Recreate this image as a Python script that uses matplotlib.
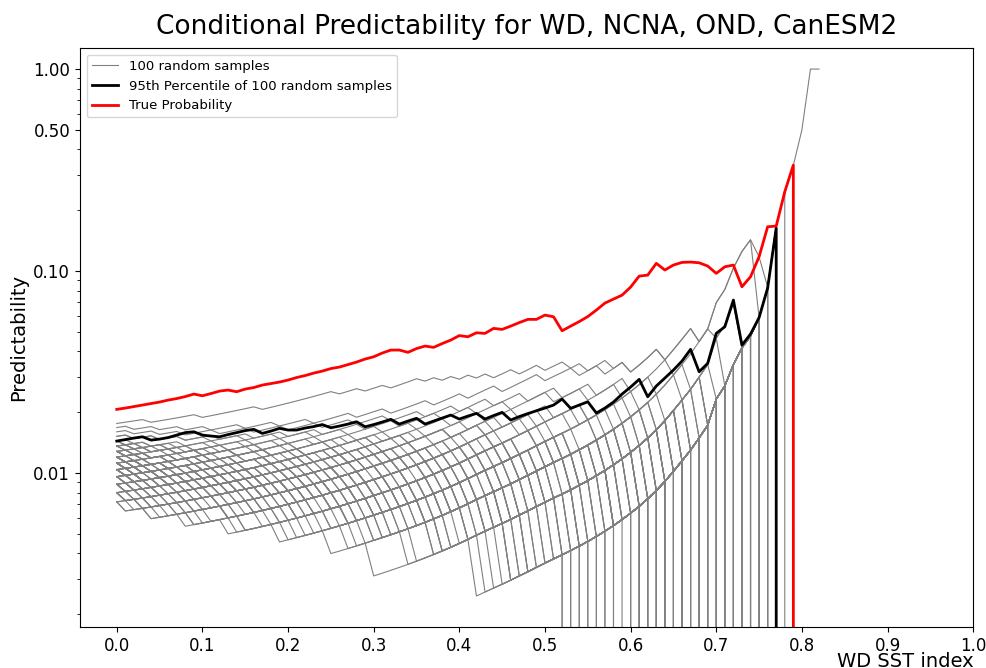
import numpy as np
import matplotlib
matplotlib.use("Agg")
import matplotlib.pyplot as plt
from matplotlib.ticker import NullFormatter

# -- umbrales del indice WD SST (0.00 ... 0.82) --
thresholds = np.round(np.arange(0, 0.83, 0.01), 2)

# anos con indice > umbral (denominador)
n_exceed = [1250, 1232, 1214, 1196, 1177, 1158, 1139, 1120, 1100, 1080,
            1060, 1040, 1020, 1000, 980, 960, 940, 919, 898, 877,
            856, 835, 814, 793, 772, 751, 730, 709, 688, 667,
            646, 626, 606, 586, 566, 546, 526, 506, 486, 466,
            446, 426, 406, 388, 371, 355, 339, 323, 308, 293,
            279, 266, 254, 242, 230, 218, 206, 194, 182, 170,
            158, 146, 134, 122, 110, 98, 87, 77, 67, 58,
            43, 37, 29, 24, 21, 17, 12, 6, 4, 3,
            2, 1, 1]

# eventos de cada muestra aleatoria (valor del indice en centesimas)
sample_events = [
    [82, 41, 37, 30, 26, 19, 12, 7, 3],
    [78, 64, 58, 47, 39, 33, 28, 21, 17, 12, 9, 5, 2],
    [77, 69, 61, 55, 46, 41, 35, 30, 26, 20, 16, 11, 8, 3, 0],
    [77, 66, 52, 44, 38, 29, 23, 18, 13, 9, 6, 1],
    [77, 72, 65, 60, 54, 49, 43, 38, 33, 29, 24, 19, 15, 11, 7, 4, 2],
    [77, 63, 57, 48, 40, 36, 31, 25, 20, 14, 10, 6, 3, 1],
    [77, 59, 45, 37, 32, 27, 21, 16, 11, 5, 2],
    [76, 75, 74, 67, 63, 59, 56, 53, 49, 44, 40, 36, 31, 27, 22, 18, 14, 10, 7, 4, 1],
    [76, 68, 62, 51, 45, 41, 34, 30, 27, 22, 17, 13, 10, 6, 3, 0],
    [76, 64, 55, 43, 37, 31, 26, 21, 16, 12, 8, 4, 1],
    [76, 60, 48, 39, 33, 24, 18, 11, 6, 2],
    [75, 74, 74, 67, 63, 59, 57, 54, 52, 49, 46, 43, 41, 39, 37, 35, 31, 28, 25, 16, 9, 3],
    [75, 65, 56, 47, 40, 35, 29, 23, 19, 14, 9, 6, 3, 0],
    [75, 62, 51, 42, 34, 28, 22, 17, 12, 8, 5, 2],
    [75, 68, 58, 49, 44, 38, 32, 27, 23, 18, 13, 9, 5, 2, 0],
    [74, 72, 69, 64, 59, 54, 50, 45, 41, 37, 32, 28, 23, 19, 15, 11, 7, 4, 1],
    [74, 63, 53, 45, 38, 32, 27, 21, 16, 11, 7, 3, 0],
    [74, 66, 60, 52, 46, 40, 35, 31, 26, 21, 17, 13, 9, 6, 2, 0],
    [74, 58, 47, 36, 30, 25, 19, 14, 9, 4, 1],
    [74, 67, 57, 50, 42, 36, 30, 25, 20, 15, 10, 7, 3, 1],
    [73, 68, 63, 58, 52, 47, 42, 38, 33, 29, 25, 20, 16, 12, 8, 5, 1],
    [73, 61, 49, 41, 35, 29, 23, 18, 13, 8, 4, 0],
    [73, 65, 59, 51, 43, 37, 32, 27, 22, 18, 14, 10, 6, 3, 1],
    [73, 60, 54, 44, 36, 30, 24, 19, 14, 10, 6, 2, 0],
    [72, 70, 66, 62, 58, 55, 51, 47, 43, 39, 35, 31, 27, 23, 19, 15, 11, 7, 4, 1],
    [72, 63, 55, 46, 39, 34, 28, 23, 18, 13, 9, 5, 2, 0],
    [72, 57, 44, 35, 28, 21, 15, 9, 5, 1],
    [72, 65, 59, 50, 45, 40, 36, 31, 26, 22, 17, 12, 8, 5, 2, 0],
    [72, 62, 53, 41, 34, 29, 24, 19, 15, 11, 7, 3, 1],
    [71, 64, 57, 50, 44, 39, 33, 28, 24, 19, 14, 10, 6, 3, 0],
    [71, 60, 48, 40, 33, 27, 21, 16, 12, 7, 3, 1],
    [71, 67, 61, 56, 49, 43, 39, 34, 30, 26, 21, 17, 13, 9, 6, 2, 0],
    [71, 55, 43, 35, 27, 19, 12, 6, 2],
    [71, 66, 56, 47, 41, 35, 30, 25, 20, 16, 11, 7, 4, 1],
    [70, 65, 61, 57, 53, 48, 44, 40, 35, 31, 27, 23, 19, 15, 11, 7, 3, 1],
    [70, 62, 52, 43, 36, 31, 25, 20, 15, 11, 7, 4, 0],
    [70, 59, 46, 38, 31, 24, 18, 13, 8, 4, 1],
    [70, 63, 55, 48, 42, 37, 32, 27, 22, 18, 13, 9, 5, 2, 0],
    [70, 64, 58, 51, 45, 41, 36, 32, 28, 24, 20, 16, 11, 7, 3, 1],
    [69, 61, 54, 46, 39, 33, 28, 24, 19, 15, 10, 6, 3, 0],
    [69, 65, 60, 53, 48, 43, 38, 34, 30, 25, 21, 17, 13, 9, 5, 2, 0],
    [69, 57, 47, 40, 32, 26, 21, 16, 11, 7, 3, 1],
    [69, 52, 41, 33, 26, 20, 14, 8, 4, 0],
    [69, 62, 56, 49, 42, 38, 33, 28, 23, 19, 14, 10, 6, 2, 1],
    [68, 63, 57, 50, 45, 40, 35, 31, 27, 23, 19, 14, 10, 6, 3, 0],
    [68, 58, 49, 42, 35, 29, 24, 19, 14, 10, 6, 2, 1],
    [68, 54, 44, 37, 30, 23, 17, 12, 7, 3, 0],
    [68, 66, 62, 59, 54, 50, 46, 42, 38, 34, 30, 26, 22, 18, 14, 10, 7, 4, 1],
    [68, 60, 53, 45, 38, 33, 27, 22, 17, 13, 9, 5, 2, 0],
    [67, 56, 46, 39, 32, 27, 22, 17, 12, 8, 4, 1],
    [67, 61, 54, 47, 41, 36, 31, 26, 21, 17, 13, 9, 6, 2, 0],
    [67, 63, 58, 52, 48, 43, 38, 34, 29, 25, 21, 17, 13, 10, 6, 3, 1],
    [67, 50, 42, 34, 27, 20, 13, 8, 3, 1],
    [67, 59, 51, 44, 37, 31, 26, 21, 16, 12, 8, 5, 2, 0],
    [66, 57, 48, 40, 34, 28, 23, 18, 13, 9, 5, 2, 0],
    [66, 62, 55, 49, 44, 39, 34, 30, 26, 22, 18, 14, 10, 6, 3, 1],
    [66, 53, 43, 36, 29, 22, 16, 11, 7, 3, 0],
    [66, 60, 52, 46, 40, 35, 30, 25, 20, 16, 12, 8, 5, 2, 1],
    [66, 64, 59, 55, 50, 46, 42, 38, 34, 30, 26, 22, 18, 14, 10, 6, 3, 0],
    [65, 58, 50, 43, 37, 32, 27, 22, 17, 13, 9, 5, 2, 0],
    [65, 55, 45, 38, 31, 25, 20, 15, 10, 6, 3, 1],
    [65, 61, 54, 48, 43, 38, 33, 29, 25, 21, 17, 13, 9, 6, 3, 0],
    [65, 51, 40, 31, 24, 18, 12, 7, 3, 0],
    [65, 57, 49, 41, 35, 29, 24, 19, 14, 10, 6, 2, 1],
    [64, 59, 52, 45, 40, 35, 30, 25, 21, 17, 13, 9, 5, 2, 0],
    [64, 54, 46, 39, 33, 27, 22, 17, 13, 9, 5, 2, 0],
    [64, 61, 56, 51, 46, 42, 37, 33, 29, 25, 21, 17, 13, 9, 6, 3, 1],
    [64, 52, 42, 35, 28, 22, 16, 11, 7, 3, 1],
    [64, 57, 50, 43, 36, 31, 26, 21, 16, 12, 8, 4, 2, 0],
    [63, 53, 44, 37, 30, 25, 20, 15, 10, 6, 3, 0],
    [63, 58, 53, 47, 42, 37, 33, 29, 25, 21, 17, 13, 9, 5, 2, 0],
    [63, 56, 48, 41, 35, 30, 25, 20, 16, 12, 8, 5, 2, 1],
    [63, 47, 36, 28, 21, 14, 8, 3, 0],
    [63, 57, 50, 44, 38, 33, 28, 24, 19, 15, 11, 7, 4, 1, 0],
    [62, 54, 45, 38, 32, 26, 21, 16, 12, 8, 4, 1, 0],
    [62, 60, 56, 52, 48, 44, 40, 36, 32, 28, 24, 20, 16, 12, 8, 5, 2, 0],
    [62, 49, 40, 33, 26, 20, 15, 10, 6, 2, 0],
    [62, 55, 47, 40, 34, 29, 24, 19, 15, 11, 7, 4, 1, 0],
    [61, 51, 43, 36, 29, 24, 19, 14, 10, 6, 2, 0],
    [61, 56, 49, 43, 38, 33, 28, 24, 20, 16, 12, 8, 5, 2, 0],
    [61, 53, 44, 37, 31, 26, 21, 17, 13, 9, 5, 2, 0],
    [61, 57, 52, 46, 41, 36, 32, 28, 24, 20, 16, 12, 9, 5, 2, 1],
    [60, 52, 45, 38, 32, 27, 22, 18, 14, 10, 7, 4, 1, 0],
    [60, 46, 37, 29, 22, 16, 10, 6, 2, 0],
    [60, 57, 53, 48, 44, 40, 36, 32, 28, 24, 20, 17, 13, 9, 6, 3, 0],
    [59, 50, 42, 35, 29, 24, 19, 15, 11, 7, 4, 1, 0],
    [58, 47, 39, 32, 26, 21, 16, 12, 8, 4, 1, 0],
    [58, 53, 46, 41, 36, 31, 27, 23, 19, 15, 11, 8, 5, 2, 0],
    [57, 45, 37, 30, 24, 18, 13, 9, 5, 2, 0],
    [57, 51, 44, 39, 33, 28, 24, 19, 15, 11, 7, 4, 1, 0],
    [56, 43, 34, 27, 20, 14, 9, 5, 2, 0],
    [56, 49, 41, 35, 30, 25, 20, 16, 12, 8, 5, 2, 0],
    [55, 46, 38, 31, 25, 20, 15, 11, 7, 4, 1, 0],
    [55, 45, 29, 24, 18, 12, 7, 3, 0],
    [54, 48, 42, 37, 32, 27, 23, 19, 15, 11, 8, 5, 2, 0],
    [54, 44, 36, 29, 23, 17, 12, 8, 4, 1, 0],
    [53, 47, 40, 34, 29, 24, 20, 16, 12, 8, 5, 2, 0],
    [53, 42, 33, 26, 19, 13, 8, 4, 1, 0],
    [52, 45, 38, 32, 27, 22, 17, 13, 9, 5, 2, 0],
    [52, 48, 43, 38, 34, 30, 26, 22, 18, 15, 11, 8, 5, 2, 0],
]

# percentil 95 (0.00 ... 0.78)
p95 = [0.01440, 0.01465, 0.01490, 0.01512, 0.01456, 0.01473, 0.01499, 0.01542, 0.01586, 0.01601,
       0.01542, 0.01525, 0.01512, 0.01551, 0.01586, 0.01623, 0.01646, 0.01572, 0.01614, 0.01665,
       0.01633, 0.01633, 0.01671, 0.01699, 0.01738, 0.01676, 0.01709, 0.01748, 0.01795, 0.01695,
       0.01738, 0.01789, 0.01845, 0.01748, 0.01809, 0.01866, 0.01748, 0.01809, 0.01872, 0.01937,
       0.01851, 0.01915, 0.01975, 0.01851, 0.01926, 0.01998, 0.01830, 0.01904, 0.01970, 0.02034,
       0.02098, 0.02171, 0.02324, 0.02091, 0.02171, 0.02254, 0.01982, 0.02098, 0.02247, 0.02461,
       0.02666, 0.02910, 0.02386, 0.02697, 0.02954, 0.03236, 0.03585, 0.04097, 0.03173, 0.03492,
       0.04915, 0.05300, 0.07186, 0.04302, 0.04876, 0.05885, 0.08236, 0.1633, 0.0]

# probabilidad real (0.00 ... 0.80)
true_prob = [0.02067, 0.02098, 0.02134, 0.02171, 0.02209, 0.02247, 0.02298, 0.02338, 0.02392, 0.02461,
             0.02414, 0.02475, 0.02546, 0.02576, 0.02527, 0.02605, 0.02651, 0.02727, 0.02774, 0.02822,
             0.02887, 0.02971, 0.03039, 0.03126, 0.03198, 0.03291, 0.03348, 0.03444, 0.03544, 0.03668,
             0.03765, 0.03928, 0.04064, 0.04064, 0.03959, 0.04134, 0.04253, 0.04191, 0.04376, 0.04554,
             0.04793, 0.04728, 0.04949, 0.04915, 0.05203, 0.05144, 0.05340, 0.05558, 0.05765, 0.05765,
             0.06055, 0.05939, 0.05063, 0.05340, 0.05623, 0.05953, 0.06410, 0.06943, 0.07267, 0.0760,
             0.0833, 0.0944, 0.0955, 0.1092, 0.1012, 0.1071, 0.1104, 0.1108, 0.1099, 0.1059,
             0.09741, 0.1050, 0.1071, 0.08361, 0.09371, 0.1177, 0.1657, 0.1670, 0.2470, 0.3347,
             0.0]

n_arr = np.array(n_exceed, dtype=float)
idx = np.arange(len(thresholds))

fig = plt.figure(figsize=(9.87, 6.68), dpi=100)
ax = fig.add_axes([0.081, 0.0614, 0.905, 0.8666])
ax.set_yscale('log')

# muestras aleatorias
for j, ev in enumerate(sample_events):
    hits = (np.array(ev)[:, None] >= idx[None, :]).sum(axis=0)
    pred = hits / n_arr
    ax.plot(thresholds, pred, color='grey', lw=0.8,
            label='100 random samples' if j == 0 else None)

ax.plot(thresholds[:len(p95)], p95, color='k', lw=2,
        label='95th Percentile of 100 random samples')
ax.plot(thresholds[:len(true_prob)], true_prob, color='red', lw=2,
        label='True Probability')

ax.set_xlim(-0.043, 1.0)
ax.set_ylim(0.00173, 1.27)
ax.set_xticks(np.arange(0, 1.01, 0.1))
ax.set_yticks([0.01, 0.1, 0.5, 1.0])
ax.set_yticklabels(['0.01', '0.10', '0.50', '1.00'])
ax.yaxis.set_minor_formatter(NullFormatter())
ax.tick_params(labelsize=12)

ax.set_title('Conditional Predictability for WD, NCNA, OND, CanESM2', fontsize=19, pad=10)
ax.set_xlabel('WD SST index', fontsize=14, loc='right')
ax.xaxis.set_label_coords(1.0, -0.043)
ax.set_ylabel('Predictability', fontsize=14)
ax.legend(loc='upper left', fontsize=9.5)

fig.savefig('out.png', dpi=100)
